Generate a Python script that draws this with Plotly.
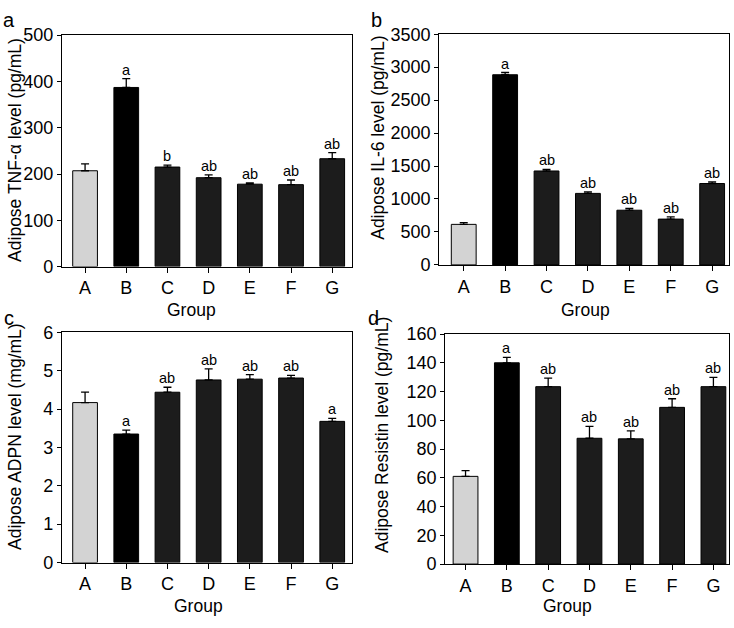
import plotly.graph_objects as go

groups = ["A", "B", "C", "D", "E", "F", "G"]

tnf_values = [207, 387, 215, 192, 178, 177, 233]
tnf_errors = [15, 19, 4, 6, 3, 10, 13]
tnf_letters = ["", "a", "b", "ab", "ab", "ab", "ab"]

il6_values = [615, 2885, 1425, 1085, 830, 695, 1235]
il6_errors = [25, 34, 25, 24, 29, 34, 25]
il6_letters = ["", "a", "ab", "ab", "ab", "ab", "ab"]

adpn_values = [4.17, 3.35, 4.44, 4.76, 4.78, 4.81, 3.68]
adpn_errors = [0.27, 0.1, 0.13, 0.29, 0.12, 0.07, 0.08]
adpn_letters = ["", "a", "ab", "ab", "ab", "ab", "a"]

resistin_values = [61, 140, 123.4, 87.5, 87.1, 109, 123.4]
resistin_errors = [4, 3.8, 6, 8.3, 5.6, 6, 6.5]
resistin_letters = ["", "a", "ab", "ab", "ab", "ab", "ab"]

bar_colors = ["#d3d3d3", "#000000", "#1c1c1c", "#1c1c1c", "#1c1c1c", "#1c1c1c", "#1c1c1c"]

W, H = 734, 628
FONT = "Liberation Sans, Arial, sans-serif"

panels = [
    dict(vals=tnf_values, errs=tnf_errors, letters=tnf_letters, ymax=500, dtick=100,
         xdom=(62, 352), ydom=(26, 265), xr=[-0.56, 6.48],
         title="Adipose TNF-α level (pg/mL)", tpos=(15, 144.5),
         group_pos=(191, 310), label="a", lpos=(9, 10)),
    dict(vals=il6_values, errs=il6_errors, letters=il6_letters, ymax=3500, dtick=500,
         xdom=(439.3, 728.7), ydom=(25, 263.3), xr=[-0.59, 6.40],
         title="Adipose IL-6 level (pg/mL)", tpos=(378, 132),
         group_pos=(585, 310), label="b", lpos=(376, 10)),
    dict(vals=adpn_values, errs=adpn_errors, letters=adpn_letters, ymax=6, dtick=1,
         xdom=(62, 352), ydom=(333, 570.7), xr=[-0.56, 6.48],
         title="Adipose ADPN level (mg/mL)", tpos=(15, 441),
         group_pos=(198, 616), label="c", lpos=(9, 318)),
    dict(vals=resistin_values, errs=resistin_errors, letters=resistin_letters, ymax=160, dtick=20,
         xdom=(445.3, 728.7), ydom=(334.7, 572.3), xr=[-0.49, 6.37],
         title="Adipose Resistin level (pg/mL)", tpos=(382, 439),
         group_pos=(567, 616), label="d", lpos=(373, 318)),
]

fig = go.Figure()
annotations = []
layout = {}

for i, p in enumerate(panels, start=1):
    xa = "x" if i == 1 else f"x{i}"
    ya = "y" if i == 1 else f"y{i}"
    fig.add_trace(go.Bar(
        x=groups, y=p["vals"], xaxis=xa, yaxis=ya,
        marker=dict(color=bar_colors, line=dict(color="#000000", width=1)),
        error_y=dict(type="data", array=p["errs"], arrayminus=[0] * len(p["errs"]),
                     symmetric=False, color="#000000", thickness=1.3, width=4),
        showlegend=False, hoverinfo="x+y",
    ))
    xkey = "xaxis" if i == 1 else f"xaxis{i}"
    ykey = "yaxis" if i == 1 else f"yaxis{i}"
    layout[xkey] = dict(
        domain=[p["xdom"][0] / W, p["xdom"][1] / W],
        anchor=ya, range=p["xr"], type="category",
        showline=True, linecolor="#000000", linewidth=1.3, mirror=True,
        ticks="outside", ticklen=5, tickwidth=1.3, tickcolor="#000000",
        showgrid=False, zeroline=False,
        tickfont=dict(family=FONT, size=18, color="#000000"),
    )
    layout[ykey] = dict(
        domain=[1 - p["ydom"][1] / H, 1 - p["ydom"][0] / H],
        anchor=xa, range=[0, p["ymax"]], dtick=p["dtick"], tick0=0,
        showline=True, linecolor="#000000", linewidth=1.3, mirror=True,
        ticks="outside", ticklen=4, tickwidth=1.3, tickcolor="#000000",
        showgrid=False, zeroline=False,
        tickfont=dict(family=FONT, size=18, color="#000000"),
    )
    for g, v, e, t in zip(groups, p["vals"], p["errs"], p["letters"]):
        if t:
            annotations.append(dict(
                x=g, y=v + e, xref=xa, yref=ya, text=t, showarrow=False,
                yanchor="bottom", xanchor="center", yshift=-1,
                font=dict(family=FONT, size=14.5, color="#000000"),
            ))
    annotations.append(dict(
        x=p["tpos"][0] / W, y=1 - p["tpos"][1] / H, xref="paper", yref="paper",
        text=p["title"], textangle=-90, showarrow=False,
        xanchor="center", yanchor="middle",
        font=dict(family=FONT, size=17.5, color="#000000"),
    ))
    annotations.append(dict(
        x=p["group_pos"][0] / W, y=1 - p["group_pos"][1] / H, xref="paper", yref="paper",
        text="Group", showarrow=False, xanchor="center", yanchor="middle",
        font=dict(family=FONT, size=17.5, color="#000000"),
    ))
    annotations.append(dict(
        x=p["lpos"][0] / W, y=1 - p["lpos"][1] / H, xref="paper", yref="paper",
        text=p["label"], showarrow=False, xanchor="center", yanchor="middle",
        font=dict(family=FONT, size=20, color="#000000"),
    ))

fig.update_layout(
    width=W, height=H,
    margin=dict(l=0, r=0, t=0, b=0),
    paper_bgcolor="#ffffff", plot_bgcolor="#ffffff",
    bargap=0.4,
    annotations=annotations,
    **layout,
)

fig.write_html(
    "out.html",
    config={"displayModeBar": False},
    post_script="document.body.style.margin='0';document.body.style.padding='0';document.body.style.overflow='hidden';",
)
